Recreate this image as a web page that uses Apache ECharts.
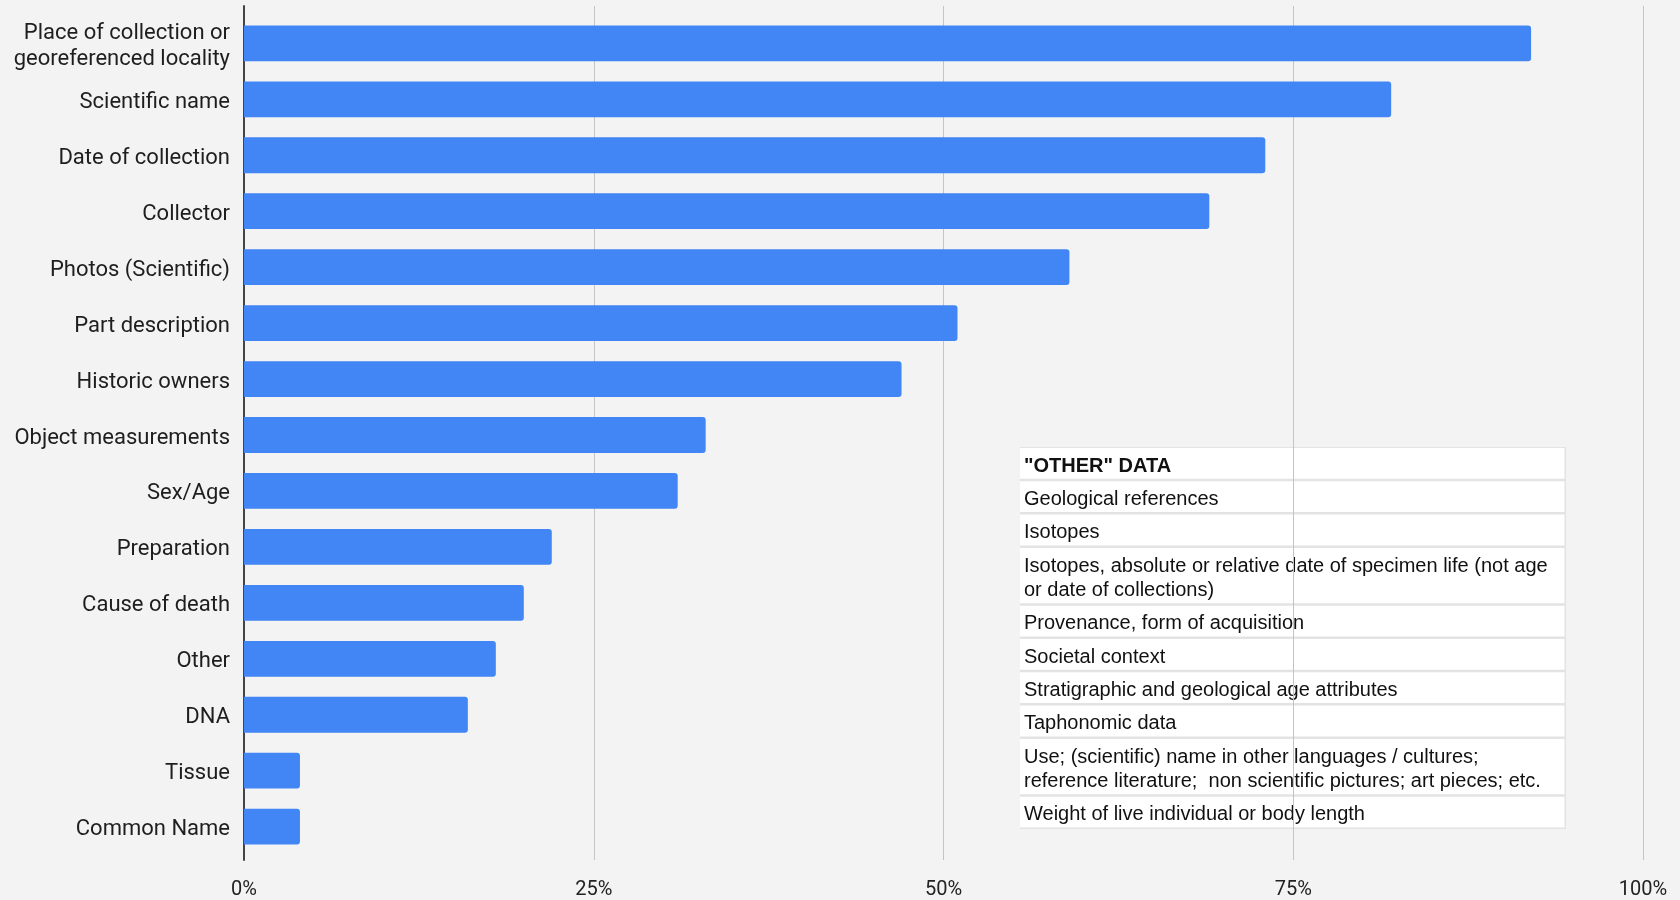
<!DOCTYPE html>
<html>
<head>
<meta charset="utf-8">
<title>Specimen data fields</title>
<script src="https://cdn.jsdelivr.net/npm/echarts@6/dist/echarts.min.js"></script>
<style>
  html, body { margin: 0; padding: 0; background: #f3f3f3; }
  #chart { width: 1680px; height: 900px; }
</style>
</head>
<body>
<div id="chart"></div>
<script>
// Data fields recorded, share of respondents (%)
const categories = [
  'Place of collection or\ngeoreferenced locality',
  'Scientific name',
  'Date of collection',
  'Collector',
  'Photos (Scientific)',
  'Part description',
  'Historic owners',
  'Object measurements',
  'Sex/Age',
  'Preparation',
  'Cause of death',
  'Other',
  'DNA',
  'Tissue',
  'Common Name'
];
const shares = [92, 82, 73, 69, 59, 51, 47, 33, 31, 22, 20, 18, 16, 4, 4];

const axisMin = 0;
const axisMax = 100;
const axisStep = 25;

// Breakdown of the "Other" category
const otherTitle = '"OTHER" DATA';
const otherRows = [
  ['Geological references'],
  ['Isotopes'],
  ['Isotopes, absolute or relative date of specimen life (not age', 'or date of collections)'],
  ['Provenance, form of acquisition'],
  ['Societal context'],
  ['Stratigraphic and geological age attributes'],
  ['Taphonomic data'],
  ['Use; (scientific) name in other languages / cultures;', 'reference literature;  non scientific pictures; art pieces; etc.'],
  ['Weight of live individual or body length']
];

// ---- table drawn as graphic elements ----
const table = { left: 1020, top: 447, width: 546, rowH: 33.3, lineH: 24.5, padX: 4, textShift: 2.5 };
const tableFont = '20px "Liberation Sans", Arial, sans-serif';
const tableBold = 'bold 20px "Liberation Sans", Arial, sans-serif';

function buildTable() {
  const rows = [[otherTitle]].concat(otherRows);
  const heights = rows.map(r => table.rowH + (r.length - 1) * table.lineH);
  const total = heights.reduce((a, b) => a + b, 0);
  const els = [{
    type: 'rect',
    shape: { x: table.left, y: table.top, width: table.width, height: total },
    style: { fill: '#e3e3e3' },
    silent: true
  }];
  let y = table.top;
  rows.forEach((lines, i) => {
    const h = heights[i];
    els.push({
      type: 'rect',
      shape: { x: table.left, y: y + 1, width: table.width - 1.5, height: h - 2.5 },
      style: { fill: '#ffffff' },
      silent: true
    });
    const mid = y + h / 2 + table.textShift;
    const first = mid - (lines.length - 1) * table.lineH / 2;
    lines.forEach((t, k) => {
      els.push({
        type: 'text',
        silent: true,
        style: {
          text: t,
          x: table.left + table.padX,
          y: first + k * table.lineH,
          font: i === 0 ? tableBold : tableFont,
          fill: '#111111',
          align: 'left',
          verticalAlign: 'middle'
        }
      });
    });
    y += h;
  });
  return els;
}

const chart = echarts.init(document.getElementById('chart'), null, { renderer: 'canvas' });

const labelFont = 'Roboto, "Noto Sans", sans-serif';

chart.setOption({
  backgroundColor: '#f3f3f3',
  animation: false,
  grid: [
    { left: 244, right: 37, top: 15.4, bottom: 45.4 },   // bars
    { left: 244, right: 37, top: 6, bottom: 38 },        // frame: gridlines + axis
    { left: 244, right: 37, top: 18.4, bottom: 42.4 }    // category labels
  ],
  xAxis: [
    { type: 'value', gridIndex: 0, min: axisMin, max: axisMax, show: false },
    {
      type: 'value', gridIndex: 1, min: axisMin, max: axisMax, interval: axisStep,
      axisLine: { show: false },
      axisTick: { show: false },
      splitLine: { show: true, lineStyle: { color: '#c4c4c4', width: 1 } },
      axisLabel: {
        formatter: '{value}%',
        color: '#222',
        fontFamily: labelFont,
        fontSize: 20,
        margin: 20
      }
    },
    { type: 'value', gridIndex: 2, min: axisMin, max: axisMax, show: false }
  ],
  yAxis: [
    {
      type: 'category', gridIndex: 0, inverse: true, data: categories,
      show: false
    },
    {
      type: 'value', gridIndex: 1,
      axisLine: { show: true, onZero: false, lineStyle: { color: '#444', width: 2 } },
      axisTick: { show: false },
      axisLabel: { show: false },
      splitLine: { show: false }
    },
    {
      type: 'category', gridIndex: 2, inverse: true, data: categories,
      axisLine: { show: false },
      axisTick: { show: false },
      splitLine: { show: false },
      axisLabel: {
        color: '#1e1e1e',
        fontFamily: labelFont,
        fontSize: 22,
        lineHeight: 26,
        margin: 14,
        align: 'right'
      }
    }
  ],
  series: [{
    type: 'bar',
    xAxisIndex: 0,
    yAxisIndex: 0,
    data: shares,
    barCategoryGap: '36%',
    itemStyle: { color: '#4285f4', borderRadius: [0, 3, 3, 0] },
    z: 3
  }],
  graphic: { elements: buildTable() }
});
</script>
</body>
</html>
